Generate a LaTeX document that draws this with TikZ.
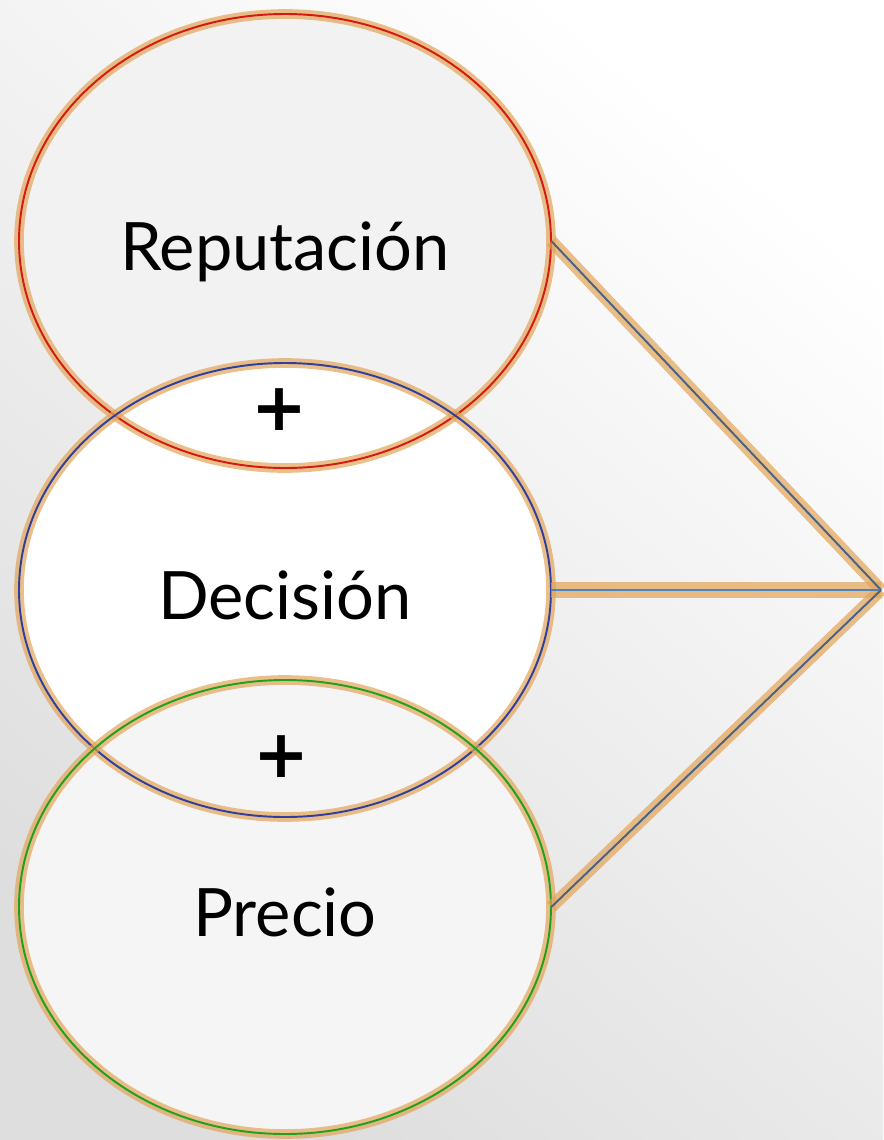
\documentclass[tikz,border=0pt]{standalone}
\usepackage{fontspec}
\setmainfont{Lato}
\newfontfamily\plusfont{DejaVu Sans}
\usepackage{tikz}
\usetikzlibrary{shapes.geometric, arrows.meta, positioning, calc}
\definecolor{redline}{HTML}{D41A12}
\definecolor{blueline}{HTML}{2E3F9E}
\definecolor{greenline}{HTML}{1FA01F}
\definecolor{glowtan}{HTML}{E3A457}
\definecolor{slateline}{HTML}{4A6283}
\definecolor{midline}{HTML}{4F81BD}

\begin{document}
\begin{tikzpicture}[
    x=0.02cm, y=-0.02cm,
    blob/.style={ellipse, minimum width=10.64cm, minimum height=9.08cm, inner sep=0pt,
                 text height=38pt, text depth=4pt, font=\fontsize{38}{44}\selectfont},
    glow/.style={draw=glowtan, line width=5.5pt, opacity=0.7},
    rim/.style={line width=1.1pt},
    plus/.style={font=\plusfont\fontsize{38}{40}\selectfont\bfseries, inner sep=0pt},
    conn/.style={line width=1.1pt, slateline}
]
    \useasboundingbox (0,0) rectangle (883,1140);
    \shade[top color=white, bottom color=black!13, shading angle=-40] (0,0) rectangle (883,1140);

    \node[blob, fill=black!5] (rep) at (285,241) {Reputación};
    \node[blob, fill=white] (dec) at (285,590) {Decisión};
    \node[blob, fill=black!4] (pre) at (285,907) {Precio};

    \foreach \n/\c in {rep/redline, dec/blueline, pre/greenline} {
        \draw[glow] (\n.center) ellipse [x radius=266, y radius=227];
        \draw[rim, \c] (\n.center) ellipse [x radius=266, y radius=227];
    }

    \node[plus] (plusA) at (279,410) {+};
    \node[plus] (plusB) at (281,757) {+};

    \coordinate (tip) at (881,590);
    \draw[glow, line width=7pt] (rep.east) -- (tip);
    \draw[glow, line width=9pt] (dec.east) -- (tip);
    \draw[glow, line width=7pt] (pre.east) -- (tip);
    \draw[conn] (rep.east) -- (tip);
    \draw[conn, midline] (dec.east) -- (tip);
    \draw[conn] (pre.east) -- (tip);
\end{tikzpicture}
\end{document}
